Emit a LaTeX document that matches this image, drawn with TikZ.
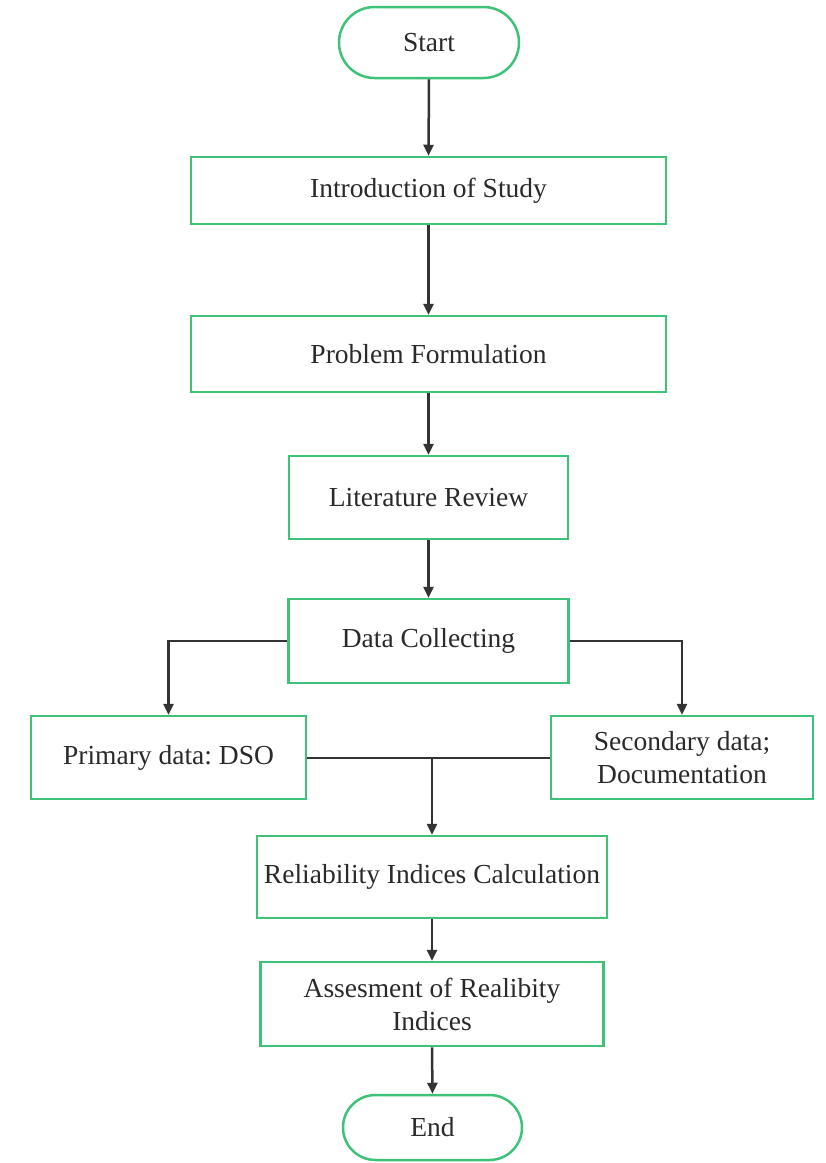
\documentclass[tikz,border=0pt]{standalone}
\usepackage{fontspec}
\setmainfont{Liberation Serif}
\frenchspacing
\usetikzlibrary{shapes.misc,arrows.meta}
\definecolor{boxgreen}{HTML}{3DC278}
\definecolor{txtgray}{HTML}{2A2A2A}
\definecolor{linegray}{HTML}{333333}
\tikzset{
  box/.style={draw=boxgreen,line width=2.5pt,fill=white,rectangle,inner sep=2pt,align=center,text=txtgray,font=\fontsize{27.5}{33}\selectfont},
  term/.style={box,rounded rectangle},
  conn/.style={draw=linegray,line width=2.5pt,-{Triangle[length=11pt,width=10pt]}},
  plain/.style={draw=linegray,line width=2.5pt}
}
\begin{document}
\begin{tikzpicture}[x=1pt,y=-1pt]
\useasboundingbox (0,0) rectangle (826,1163);
\node[term,minimum width=184pt,minimum height=71pt] (start) at (429,42.5) {Start};
\node[box,minimum width=475pt,minimum height=67pt] (intro) at (428.5,190.5) {Introduction of Study};
\node[box,minimum width=475pt,minimum height=76pt] (prob) at (428.5,354) {Problem Formulation};
\node[box,minimum width=279pt,minimum height=83pt] (lit) at (428.5,497.5) {Literature Review};
\node[box,minimum width=280pt,minimum height=84pt] (data) at (428.5,641) {Data Collecting};
\node[box,minimum width=275pt,minimum height=83pt] (prim) at (168.5,757.5) {Primary data: DSO};
\node[box,minimum width=262pt,minimum height=83pt] (sec) at (682,757.5) {Secondary data;\\Documentation};
\node[box,minimum width=350pt,minimum height=82pt,inner sep=0pt] (rel) at (432,877) {Reliability Indices Calculation};
\node[box,minimum width=343pt,minimum height=84pt] (ass) at (432,1004) {Assesment of Realibity\\Indices};
\node[term,minimum width=183pt,minimum height=65pt] (end) at (432.5,1127.5) {End};
\coordinate (j) at (432,758);
\draw[conn] (start.south) -- (intro.north);
\draw[conn] (intro.south) -- (prob.north);
\draw[conn] (prob.south) -- (lit.north);
\draw[conn] (lit.south) -- (data.north);
\draw[conn] (data.west) -| (prim.north);
\draw[conn] (data.east) -| (sec.north);
\draw[plain] (prim.east |- j) -- (sec.west |- j);
\draw[conn] (j) -- (rel.north);
\draw[conn] (rel.south) -- (ass.north);
\draw[conn] (ass.south) -- (end.north);
\end{tikzpicture}
\end{document}
